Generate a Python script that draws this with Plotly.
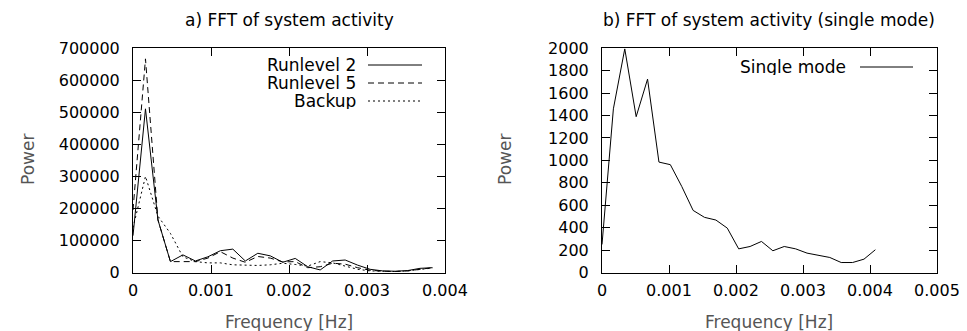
import plotly.graph_objects as go

# ---- data ----
freq_a = [k * 0.00016 for k in range(25)]
runlevel2 = [115000, 511000, 164000, 34000, 55000, 36000, 49000, 68000, 73000, 36000,
             60000, 52000, 32000, 44000, 18000, 8000, 36000, 39000, 23000, 10000,
             5000, 4000, 6000, 13000, 15000]
runlevel5 = [195000, 667000, 164000, 34000, 34000, 34000, 45000, 65000, 45000, 32000,
             50000, 45000, 33000, 34000, 15000, 18000, 29000, 26000, 15000, 7000,
             4000, 3000, 5000, 10000, 15000]
backup = [140000, 300000, 176000, 122000, 49000, 34000, 30000, 30000, 24000, 22000,
          22000, 24000, 29000, 25000, 20000, 34000, 30000, 20000, 10000, 5000,
          3000, 3000, 5000, 10000, 14000]

freq_b = [k * 0.00017 for k in range(25)]
single_mode = [250, 1460, 1995, 1390, 1725, 985, 962, 768, 554, 492,
               468, 396, 211, 232, 277, 194, 232, 211, 173, 152,
               134, 89, 89, 119, 203]

title_a = "a) FFT of system activity"
title_b = "b) FFT of system activity (single mode)"
x_title = "Frequency [Hz]"
y_title = "Power"

FONT = "DejaVu Sans, Liberation Sans, Arial, sans-serif"
FS = 17      # text size
TFS = 16     # tick label size
W, H = 967, 331
OFF = 8      # page body margin offset

def px(x):
    return (x - OFF) / W

def py(y):
    return 1 - (y - OFF) / H

fig = go.Figure()
fig.add_trace(go.Scatter(x=freq_a, y=runlevel2, mode="lines", name="Runlevel 2",
                         line=dict(color="black", width=1), xaxis="x", yaxis="y"))
fig.add_trace(go.Scatter(x=freq_a, y=runlevel5, mode="lines", name="Runlevel 5",
                         line=dict(color="black", width=1, dash="6px,4px"), xaxis="x", yaxis="y"))
fig.add_trace(go.Scatter(x=freq_a, y=backup, mode="lines", name="Backup",
                         line=dict(color="black", width=1, dash="2px,3px"), xaxis="x", yaxis="y"))
fig.add_trace(go.Scatter(x=freq_b, y=single_mode, mode="lines", name="Single mode",
                         line=dict(color="black", width=1), xaxis="x2", yaxis="y2"))

axis_common = dict(showline=True, linecolor="black", linewidth=1, mirror="ticks",
                   ticks="inside", ticklen=8, tickcolor="black", tickwidth=1,
                   showgrid=False, zeroline=False, automargin=False,
                   tickfont=dict(family=FONT, size=TFS, color="black"))

ydom = [py(272.5), py(48.3)]
fig.update_layout(
    template="none",
    width=W, height=H, autosize=False,
    margin=dict(l=0, r=0, t=0, b=0, pad=0),
    paper_bgcolor="white", plot_bgcolor="white",
    showlegend=False,
    font=dict(family=FONT, size=FS, color="black"),
    xaxis=dict(domain=[px(133), px(445)], range=[0, 0.004], dtick=0.001,
               tickformat="~g", anchor="y", ticklabelstandoff=3, **axis_common),
    yaxis=dict(domain=ydom, range=[0, 700000], dtick=100000,
               tickformat="d", anchor="x", ticklabelstandoff=9, **axis_common),
    xaxis2=dict(domain=[px(602), px(937)], range=[0, 0.005], dtick=0.001,
                tickformat="~g", anchor="y2", ticklabelstandoff=3, **axis_common),
    yaxis2=dict(domain=ydom, range=[0, 2000], dtick=200,
                tickformat="d", anchor="x2", ticklabelstandoff=9, **axis_common),
)

annotations = []
shapes = []
# titles
for txt, cx in [(title_a, 289), (title_b, 769)]:
    annotations.append(dict(text=txt, x=px(cx), y=py(20), xref="paper", yref="paper",
                            xanchor="center", yanchor="middle", showarrow=False,
                            font=dict(family=FONT, size=FS, color="black")))
# axis titles
for cx in [289, 769]:
    annotations.append(dict(text=x_title, x=px(cx), y=py(322), xref="paper", yref="paper",
                            xanchor="center", yanchor="middle", showarrow=False,
                            font=dict(family=FONT, size=FS, color="#555555")))
for cx in [28, 505]:
    annotations.append(dict(text=y_title, x=px(cx), y=py(160), xref="paper", yref="paper",
                            xanchor="center", yanchor="middle", showarrow=False, textangle=-90,
                            font=dict(family=FONT, size=FS, color="#555555")))

# manual legends (gnuplot style: text then sample to its right)
legend_items = [
    ("Runlevel 2", "solid", 357, 368, 422, 65),
    ("Runlevel 5", "6px,4px", 357, 368, 422, 83),
    ("Backup", "2px,3px", 357, 368, 422, 101),
    ("Single mode", "solid", 847, 860, 913, 67),
]
for name, dash, tx, x0, x1, yy in legend_items:
    annotations.append(dict(text=name, x=px(tx), y=py(yy), xref="paper", yref="paper",
                            xanchor="right", yanchor="middle", showarrow=False,
                            borderpad=0, height=16,
                            font=dict(family=FONT, size=FS, color="black")))
    shapes.append(dict(type="line", xref="paper", yref="paper",
                       x0=px(x0), x1=px(x1), y0=py(yy), y1=py(yy),
                       line=dict(color="black", width=1, dash=dash)))

fig.update_layout(annotations=annotations, shapes=shapes)
fig.write_html("out.html")
